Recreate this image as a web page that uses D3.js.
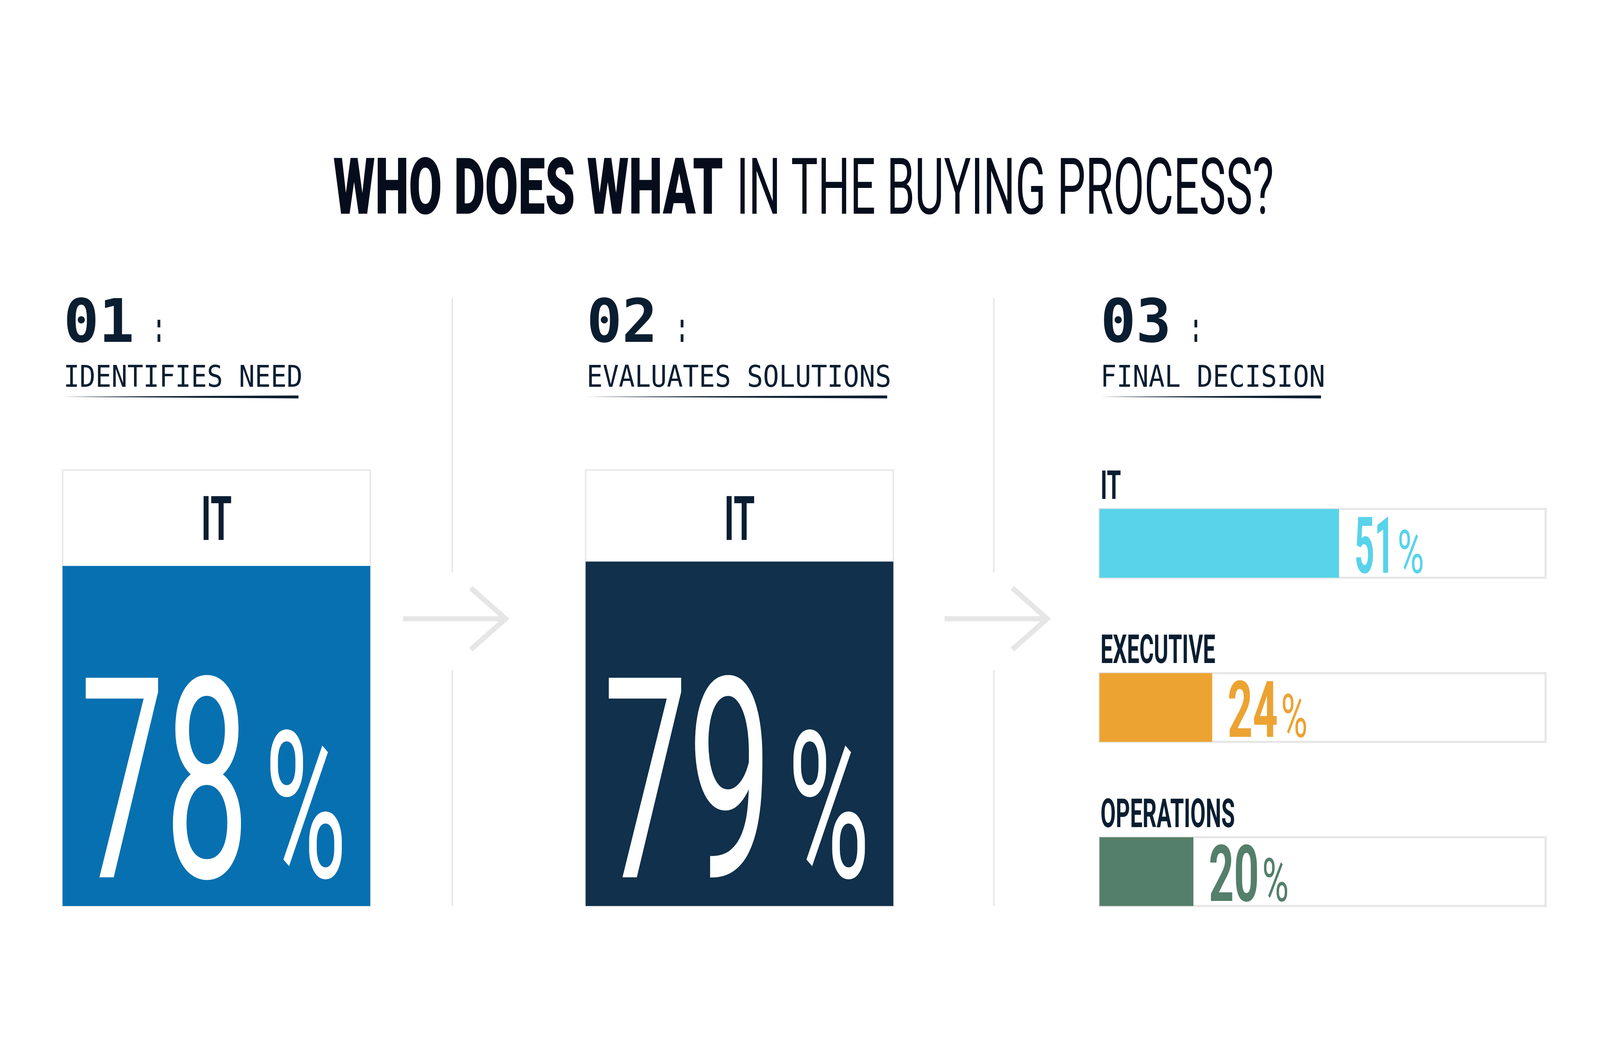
<!DOCTYPE html>
<html><head><meta charset="utf-8">
<script src="https://cdn.jsdelivr.net/npm/d3@7"></script>
<style>html,body{margin:0;padding:0;background:#fff;overflow:hidden;width:100%;height:100%}svg{display:block;width:100vw;height:100vh}</style>
</head><body>
<script>
// ---- data ----
const titleBold = "WHO DOES WHAT";
const titleRegular = "IN THE BUYING PROCESS?";
const stepNumbers = ["01", "02", "03"];
const stepTitles = ["IDENTIFIES NEED", "EVALUATES SOLUTIONS", "FINAL DECISION"];
const panelLabels = ["IT", "IT"];
const panelValues = [78, 79];
const decisionCategories = ["IT", "EXECUTIVE", "OPERATIONS"];
const decisionValues = [51, 24, 20];

// ---- style/layout ----
const W = 1560, H = 845;
const navy = "#0b1e31", light = "#e8e8e8";
const panelColors = ["#0770b0", "#10304b"];
const decisionColors = ["#58d3ea", "#eca332", "#547f6a"];
const colX = [61, 571, 1072];
const cond = "'Roboto','Liberation Sans','DejaVu Sans',sans-serif";
const mono = "'DejaVu Sans Mono','Liberation Mono',monospace";

const svg = d3.select("body").append("svg")
  .attr("viewBox", `0 0 ${W} ${H}`)
  .attr("preserveAspectRatio", "xMidYMid meet");

function txt(str, x, base, cap, width, o = {}) {
  const t = svg.append("text").text(str).attr("x", x).attr("y", base)
    .attr("font-family", o.family || cond).attr("font-weight", o.weight || 700)
    .attr("font-size", cap / 0.72).attr("fill", o.fill || navy);
  if (width) t.attr("textLength", width).attr("lengthAdjust", "spacingAndGlyphs");
  if (o.anchor) t.attr("text-anchor", o.anchor);
  return t;
}

// title
txt(titleBold, 325, 115, 55, 380, {weight: 900, fill: "#050d1c"});
txt(titleRegular, 718, 115, 55, 524, {weight: 400, fill: "#050d1c"});

// step headers
const subW = [233, 297, 219];
stepNumbers.forEach((n, i) => {
  const x = colX[i] + 1;
  txt(n, x, 240, 42, 69, {family: mono, weight: 700});
  txt(":", x + 88, 240, 30, 10, {family: mono, weight: 700});
  txt(stepTitles[i], x, 284, 21, subW[i], {family: mono, weight: 400});
  const w = subW[i] - 3;
  svg.append("path").attr("fill", navy)
    .attr("d", `M${x - 1},293.6 L${x - 1 + w},292.3 L${x - 1 + w},295.2 Z`);
});

// dividers
[441, 969].forEach(x => {
  svg.append("line").attr("x1", x).attr("x2", x).attr("y1", 197).attr("y2", 465).attr("stroke", light).attr("stroke-width", 1.5);
  svg.append("line").attr("x1", x).attr("x2", x).attr("y1", 560).attr("y2", 790).attr("stroke", light).attr("stroke-width", 1.5);
});
// arrows
[393, 921].forEach(x => {
  svg.append("path").attr("fill", "none").attr("stroke", "#e6e6e6").attr("stroke-width", 5)
    .attr("d", `M${x},510 H${x + 100} M${x + 66},480 L${x + 100},510 L${x + 66},540`);
});

// panels 1 & 2
const py = d3.scaleLinear().domain([0, 100]).range([790, 365]);
const pw = 300;
panelValues.forEach((v, i) => {
  const x = colX[i];
  svg.append("rect").attr("x", x).attr("y", py(100)).attr("width", pw).attr("height", py(0) - py(100))
    .attr("fill", "#fff").attr("stroke", light).attr("stroke-width", 1.5);
  svg.append("rect").attr("x", x).attr("y", py(v)).attr("width", pw).attr("height", py(0) - py(v))
    .attr("fill", panelColors[i]);
  txt(panelLabels[i], x + pw / 2, 433, 43, 30, {anchor: "middle"});
  txt(String(v), x + 17, 762, 197, 165, {weight: 400, fill: "#fff"});
  txt("%", x + 197, 762, 144, 80, {weight: 400, fill: "#fff"});
});

// panel 3 bars
const bx = d3.scaleLinear().domain([0, 95]).range([1072, 1507]);
const by = d3.scaleBand().domain(decisionCategories).range([365, 845]);
const labW = [20, 112, 131];
decisionCategories.forEach((c, i) => {
  const y0 = by(c), v = decisionValues[i];
  txt(c, 1073, y0 + 28, 28, labW[i], {weight: 700});
  svg.append("rect").attr("x", bx(0)).attr("y", y0 + 38).attr("width", bx(95) - bx(0)).attr("height", 67)
    .attr("fill", "#fff").attr("stroke", "#e6e6e6").attr("stroke-width", 2);
  svg.append("rect").attr("x", bx(0)).attr("y", y0 + 38).attr("width", bx(v) - bx(0)).attr("height", 67)
    .attr("fill", decisionColors[i]);
  const s = String(v);
  const nw = s === "51" ? 39 : 49;
  const x1 = bx(v) + 15;
  txt(s, x1, y0 + 100, 55, nw, {weight: 700, fill: decisionColors[i]});
  txt("%", x1 + nw + 3, y0 + 100, 42, 26, {weight: 400, fill: decisionColors[i]});
});
</script>
</body></html>
